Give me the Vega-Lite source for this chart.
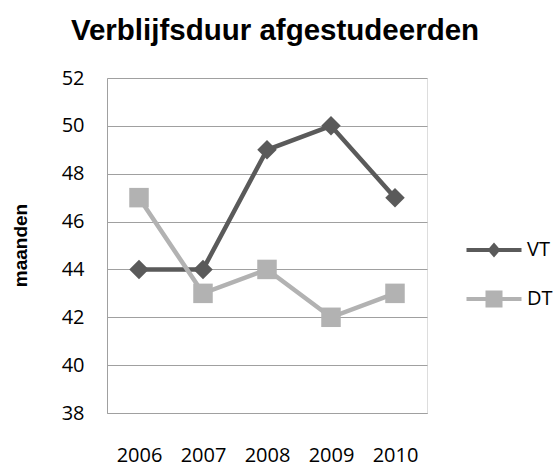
{
  "$schema": "https://vega.github.io/schema/vega-lite/v6.json",
  "width": 320,
  "height": 335,
  "autosize": "none",
  "padding": {"left": 107, "top": 78, "right": 132, "bottom": 56},
  "background": "white",
  "title": {
    "text": "Verblijfsduur afgestudeerden",
    "font": "Liberation Sans",
    "fontSize": 29.5,
    "fontWeight": "bold",
    "color": "#000000",
    "anchor": "middle",
    "frame": "group",
    "baseline": "alphabetic",
    "offset": -1,
    "dx": 8
  },
  "data": {
    "values": [
      {"year": "2006", "series": "VT", "value": 44},
      {"year": "2007", "series": "VT", "value": 44},
      {"year": "2008", "series": "VT", "value": 49},
      {"year": "2009", "series": "VT", "value": 50},
      {"year": "2010", "series": "VT", "value": 47},
      {"year": "2006", "series": "DT", "value": 47},
      {"year": "2007", "series": "DT", "value": 43},
      {"year": "2008", "series": "DT", "value": 44},
      {"year": "2009", "series": "DT", "value": 42},
      {"year": "2010", "series": "DT", "value": 43}
    ]
  },
  "encoding": {
    "x": {
      "field": "year",
      "type": "ordinal",
      "scale": {"type": "point", "padding": 0.5},
      "axis": {
        "title": null,
        "labelAngle": 0,
        "ticks": false,
        "grid": false,
        "domain": true,
        "domainColor": "#a0a0a0",
        "domainWidth": 1,
        "labelFont": "Open Sans",
        "labelFontSize": 20,
        "labelColor": "#000000",
        "labelPadding": 32
      }
    },
    "y": {
      "field": "value",
      "type": "quantitative",
      "scale": {"domain": [38, 52], "nice": false, "zero": false},
      "axis": {
        "values": [38, 40, 42, 44, 46, 48, 50, 52],
        "grid": true,
        "gridColor": "#a0a0a0",
        "gridWidth": 1,
        "gridOpacity": 1,
        "ticks": false,
        "domain": true,
        "domainColor": "#a0a0a0",
        "labelFont": "Open Sans",
        "labelFontSize": 20,
        "labelColor": "#000000",
        "labelPadding": 23,
        "title": "maanden",
        "titleFont": "Liberation Sans",
        "titleFontSize": 19,
        "titleFontWeight": "bold",
        "titleColor": "#000000",
        "titleAngle": 270,
        "titleAlign": "center",
        "titleBaseline": "middle",
        "titleX": -87,
        "titleY": 167
      }
    }
  },
  "layer": [
    {
      "mark": {"type": "line", "strokeWidth": 4.5},
      "encoding": {
        "color": {
          "field": "series",
          "type": "nominal",
          "scale": {"domain": ["VT", "DT"], "range": ["#5a5a5a", "#b2b2b2"]},
          "legend": null
        }
      }
    },
    {
      "mark": {"type": "point", "filled": true, "opacity": 1, "size": 380},
      "encoding": {
        "color": {
          "field": "series",
          "type": "nominal",
          "scale": {"domain": ["VT", "DT"], "range": ["#5a5a5a", "#b2b2b2"]},
          "legend": null
        },
        "shape": {
          "field": "series",
          "type": "nominal",
          "scale": {"domain": ["VT", "DT"], "range": ["diamond", "square"]},
          "legend": null
        }
      }
    },
    {
      "transform": [{"filter": "datum.value < 0"}],
      "mark": {"type": "point", "filled": true, "opacity": 1, "size": 400},
      "encoding": {
        "color": {
          "field": "series",
          "type": "nominal",
          "scale": {"domain": ["VT", "DT"], "range": ["#5a5a5a", "#b2b2b2"]},
          "legend": {
            "title": null,
            "orient": "none",
            "legendX": 377,
            "legendY": 162,
            "padding": 0,
            "symbolSize": 400,
            "symbolOpacity": 1,
            "symbolStrokeWidth": 0,
            "rowPadding": 29,
            "labelOffset": 23,
            "labelFont": "Open Sans",
            "labelFontSize": 20,
            "labelColor": "#000000"
          }
        },
        "shape": {
          "field": "series",
          "type": "nominal",
          "scale": {
            "domain": ["VT", "DT"],
            "range": [
              "M-2.75,-0.2H2.75V0.2H-2.75Z M0,-0.75L0.65,0L0,0.75L-0.65,0Z",
              "M-2.75,-0.2H2.75V0.2H-2.75Z M-0.85,-0.85H0.85V0.85H-0.85Z"
            ]
          },
          "legend": {
            "title": null,
            "orient": "none",
            "legendX": 377,
            "legendY": 162,
            "padding": 0,
            "symbolSize": 400,
            "symbolOpacity": 1,
            "symbolStrokeWidth": 0,
            "rowPadding": 29,
            "labelOffset": 23,
            "labelFont": "Open Sans",
            "labelFontSize": 20,
            "labelColor": "#000000"
          }
        }
      }
    }
  ],
  "resolve": {"scale": {"shape": "independent", "color": "independent"}}
}
